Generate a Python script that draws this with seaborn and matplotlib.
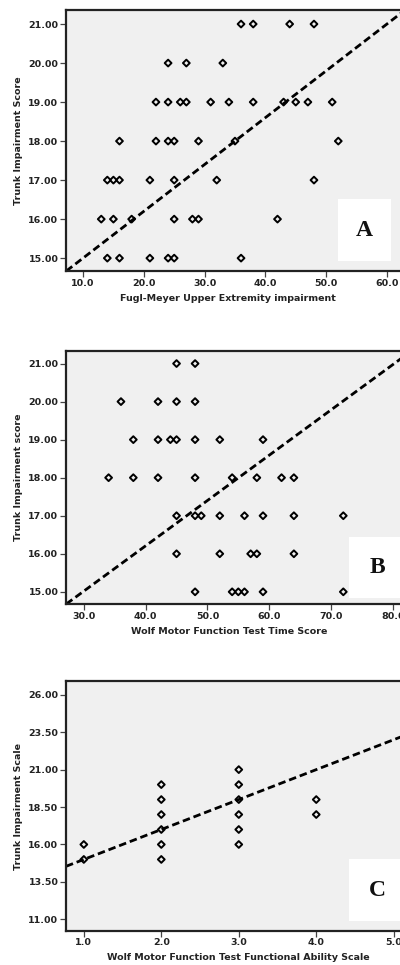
import numpy as np
import pandas as pd
import matplotlib
matplotlib.use("Agg")
import matplotlib.pyplot as plt
from matplotlib.ticker import FormatStrFormatter
from matplotlib.patches import Rectangle
import seaborn as sns

# ---- data ----
# panel A: Fugl-Meyer UE vs trunk impairment
fm_ue = [36, 38, 44, 48,
         24, 27, 33,
         22, 24, 26, 27, 31, 34, 38, 43, 45, 47, 51,
         16, 22, 24, 25, 29, 35, 52,
         14, 15, 16, 21, 25, 32, 48,
         13, 15, 18, 25, 28, 29, 42,
         14, 16, 21, 24, 25, 36]
tis_a = [21] * 4 + [20] * 3 + [19] * 11 + [18] * 7 + [17] * 7 + [16] * 7 + [15] * 6

# panel B: WMFT time vs trunk impairment
wmft_time = [45, 48,
             36, 42, 45, 48,
             38, 42, 44, 45, 48, 52, 59,
             34, 38, 42, 48, 54, 58, 62, 64,
             45, 48, 49, 52, 56, 59, 64, 72,
             45, 52, 57, 58, 64,
             48, 54, 55, 56, 59, 72]
tis_b = [21] * 2 + [20] * 4 + [19] * 7 + [18] * 8 + [17] * 8 + [16] * 5 + [15] * 6

# panel C: WMFT functional ability vs trunk impairment
wmft_fas = [1, 1,
            2, 2, 2, 2, 2, 2,
            3, 3, 3, 3, 3, 3,
            4, 4]
tis_c = [16, 15,
         20, 19, 18, 17, 16, 15,
         21, 20, 19, 18, 17, 16,
         19, 18]

# reference lines (intercept, slope)
line_a = (13.8, 0.12)
line_b = (11.45, 0.119)
line_c = (13.0, 2.0)

# tick values
xticks_a = [10, 20, 30, 40, 50, 60]
yticks_a = [15, 16, 17, 18, 19, 20, 21]
xticks_b = [30, 40, 50, 60, 70, 80]
yticks_b = [15, 16, 17, 18, 19, 20, 21]
xticks_c = [1, 2, 3, 4, 5]
yticks_c = [11.0, 13.5, 16.0, 18.5, 21.0, 23.5, 26.0]

panel_letters = ["A", "B", "C"]
x_labels = ["Fugl-Meyer Upper Extremity impairment",
            "Wolf Motor Function Test Time Score",
            "Wolf Motor Function Test Functional Ability Scale"]
y_labels = ["Trunk Impairment Score", "Trunk Impairment score",
            "Trunk Impairment Scale"]

sns.set_theme(style="ticks")
plt.rcParams["font.family"] = ["DejaVu Sans"]
plt.rcParams["font.weight"] = "bold"

fig = plt.figure(figsize=(4.0, 9.65), dpi=100)

W, H = 400.0, 965.0
def add_ax(top, bottom, left=66, right=410):
    return fig.add_axes([left / W, 1 - bottom / H, (right - left) / W, (bottom - top) / H])

ax_a = add_ax(10, 271)
ax_b = add_ax(351, 604)
ax_c = add_ax(681.3, 930.7)

d_a = pd.DataFrame({"x": fm_ue, "y": tis_a})
d_b = pd.DataFrame({"x": wmft_time, "y": tis_b})
d_c = pd.DataFrame({"x": wmft_fas, "y": tis_c})

# ax, data, line, xlim, ylim, xticks, yticks, letter box (axes fraction), xlabel centre px
settings = [
    (ax_a, d_a, line_a, (7.2, 63.8), (14.67, 21.36), xticks_a, yticks_a,
     (0.791, 0.945, 0.038, 0.276), 228),
    (ax_b, d_b, line_b, (27.1, 82.8), (14.68, 21.33), xticks_b, yticks_b,
     (0.823, 0.99, 0.024, 0.266), 229),
    (ax_c, d_c, line_c, (0.77, 5.21), (10.24, 26.9), xticks_c, yticks_c,
     (0.823, 0.99, 0.039, 0.287), 238),
]

for i, (ax, d, ln, xl, yl, xt, yt, box, xlab_c) in enumerate(settings):
    ax.set_facecolor("#F0F0F0")
    sns.scatterplot(data=d, x="x", y="y", ax=ax, marker="D", s=12,
                    facecolors="none", edgecolors="black", linewidth=1.4,
                    zorder=3)
    ax.axline((0, ln[0]), slope=ln[1], color="black", lw=2.0,
              ls=(0, (2.7, 1.4)), zorder=2)
    ax.set_xlim(*xl)
    ax.set_ylim(*yl)
    ax.set_xticks(xt)
    ax.set_yticks(yt)
    ax.xaxis.set_major_formatter(FormatStrFormatter("%.1f"))
    ax.yaxis.set_major_formatter(FormatStrFormatter("%.2f"))
    ax.tick_params(axis="both", length=4, width=0.9, color="#444444",
                   labelsize=6.8, pad=1.5, labelcolor="#222222")
    for lab in ax.get_xticklabels() + ax.get_yticklabels():
        lab.set_fontweight("bold")
    for side in ["left", "bottom", "top"]:
        ax.spines[side].set_color("#222222")
        ax.spines[side].set_linewidth(1.6)
    ax.spines["right"].set_visible(False)
    ax.set_xlabel(x_labels[i], fontsize=6.8, fontweight="bold", color="#222222")
    ax.set_ylabel(y_labels[i], fontsize=6.8, fontweight="bold", color="#222222")
    ax.xaxis.set_label_coords((xlab_c - 66) / 344.0, -0.09)
    ax.yaxis.set_label_coords(-0.125, 0.5)

    bx0, bx1, by0, by1 = box
    ax.add_patch(Rectangle((bx0, by0), bx1 - bx0, by1 - by0, transform=ax.transAxes,
                           facecolor="white", edgecolor="none", zorder=4))
    ax.text((bx0 + bx1) / 2, (by0 + by1) / 2, panel_letters[i], transform=ax.transAxes,
            ha="center", va="center", fontsize=17, fontweight="bold",
            family=["Liberation Serif", "DejaVu Serif"], color="#111111", zorder=5)

fig.savefig("out.png", dpi=100)
